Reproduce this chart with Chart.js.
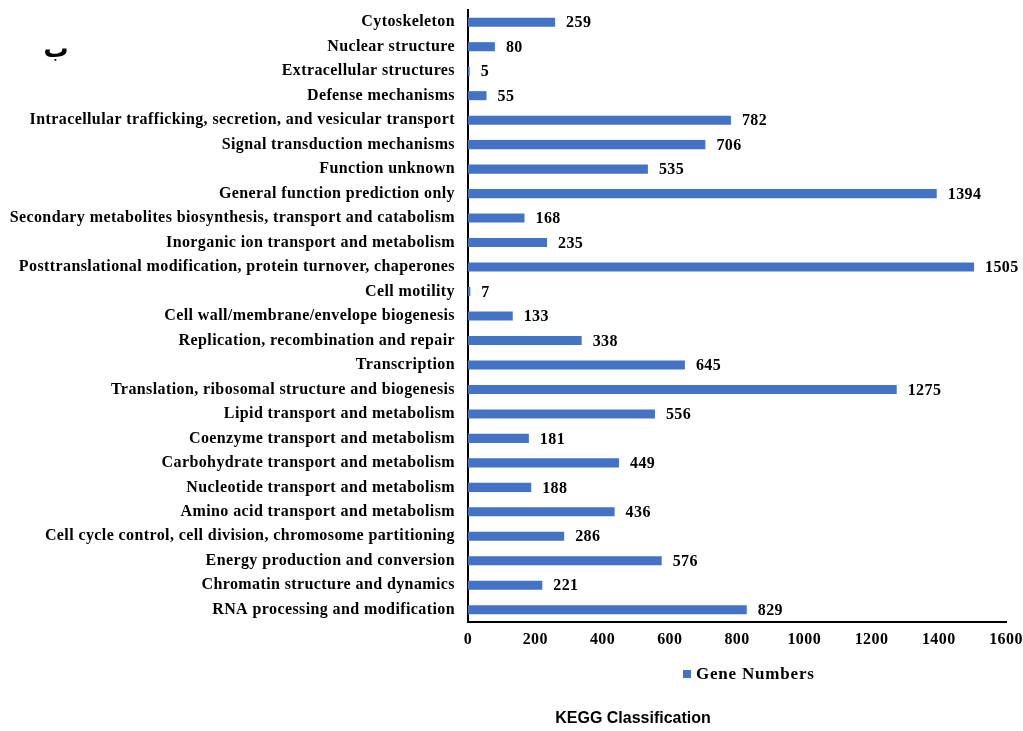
<!DOCTYPE html>
<html>
<head>
<meta charset="utf-8">
<script src="https://cdn.jsdelivr.net/npm/chart.js@4/dist/chart.umd.min.js"></script>
<style>
  html, body { margin: 0; padding: 0; background: #fff; }
  #wrap { width: 1023px; height: 731px; position: relative; }
</style>
</head>
<body>
<div id="wrap"><canvas id="keggChart" width="1023" height="731"></canvas></div>
<script>
// KEGG categories, top to bottom as in the figure
const categories = [
    "Cytoskeleton",
    "Nuclear structure",
    "Extracellular structures",
    "Defense mechanisms",
    "Intracellular trafficking, secretion, and vesicular transport",
    "Signal transduction mechanisms",
    "Function unknown",
    "General function prediction only",
    "Secondary metabolites biosynthesis, transport and catabolism",
    "Inorganic ion transport and metabolism",
    "Posttranslational modification, protein turnover, chaperones",
    "Cell motility",
    "Cell wall/membrane/envelope biogenesis",
    "Replication, recombination and repair",
    "Transcription",
    "Translation, ribosomal structure and biogenesis",
    "Lipid transport and metabolism",
    "Coenzyme transport and metabolism",
    "Carbohydrate transport and metabolism",
    "Nucleotide transport and metabolism",
    "Amino acid transport and metabolism",
    "Cell cycle control, cell division, chromosome partitioning",
    "Energy production and conversion",
    "Chromatin structure and dynamics",
    "RNA processing and modification"
];
const geneNumbers = [259, 80, 5, 55, 782, 706, 535, 1394, 168, 235, 1505, 7, 133, 338, 645, 1275, 556, 181, 449, 188, 436, 286, 576, 221, 829];
const seriesName = "Gene Numbers";
const chartTitle = "KEGG Classification";
const cornerMark = "ب";
const xMin = 0, xMax = 1600, xStep = 200;

const barColor = "#4472C4";
const serif = "'Liberation Serif', 'Times New Roman', serif";

// the figure's text is a bit wide, so space the letters out
const spacingPlugin = {
    id: "spacing",
    beforeLayout(chart) { chart.ctx.letterSpacing = "0.4px"; },
    beforeDraw(chart) { chart.ctx.letterSpacing = "0.4px"; }
};

// value labels, legend, title and corner mark
const extrasPlugin = {
    id: "extras",
    afterDatasetsDraw(chart) {
        const ctx = chart.ctx;
        const meta = chart.getDatasetMeta(0);
        ctx.save();
        ctx.fillStyle = "#000";
        ctx.letterSpacing = "0.4px";
        ctx.font = "bold 16px " + serif;
        ctx.textAlign = "left";
        ctx.textBaseline = "middle";
        meta.data.forEach((bar, i) => {
            ctx.fillText(String(geneNumbers[i]), bar.x + 11, bar.y + 1);
        });

        // legend
        ctx.font = "bold 17px " + serif;
        ctx.letterSpacing = "0.8px";
        ctx.fillStyle = barColor;
        ctx.fillRect(683, 670, 8, 8);
        ctx.fillStyle = "#000";
        ctx.fillText(seriesName, 696, 675);

        // title
        ctx.letterSpacing = "0px";
        ctx.font = "bold 16px 'Liberation Sans', Arial, sans-serif";
        ctx.textAlign = "center";
        ctx.fillText(chartTitle, 633, 719);

        // corner mark
        ctx.font = "bold 25px 'DejaVu Sans', sans-serif";
        ctx.fillText(cornerMark, 56, 50);
        ctx.restore();
    }
};

const ctx = document.getElementById("keggChart").getContext("2d");
const keggChart = new Chart(ctx, {
    type: "bar",
    data: {
        labels: categories,
        datasets: [{
            label: seriesName,
            data: geneNumbers,
            backgroundColor: barColor,
            categoryPercentage: 1.0,
            barPercentage: 0.37
        }]
    },
    options: {
        indexAxis: "y",
        responsive: false,
        animation: false,
        layout: { padding: { top: 10, right: 17, left: 0, bottom: 0 } },
        plugins: {
            legend: { display: false },
            title: { display: false },
            tooltip: { enabled: false }
        },
        scales: {
            x: {
                min: xMin,
                max: xMax,
                grid: { display: false, drawTicks: false },
                border: { display: true, color: "#000", width: 2 },
                ticks: {
                    stepSize: xStep,
                    color: "#000",
                    padding: 8,
                    maxRotation: 0,
                    callback: (v) => String(v),
                    font: { family: serif, size: 16, weight: "bold" }
                },
                afterFit(scale) {
                    scale.height = 109;
                    scale.paddingLeft = 0;
                    scale.paddingRight = 0;
                }
            },
            y: {
                grid: { display: false, drawTicks: false },
                border: { display: true, color: "#000", width: 2 },
                ticks: {
                    color: "#000",
                    padding: 13,
                    autoSkip: false,
                    font: { family: serif, size: 16, weight: "bold" }
                },
                afterFit(scale) {
                    scale.width = 468;
                    scale.paddingTop = 0;
                    scale.paddingBottom = 0;
                }
            }
        }
    },
    plugins: [spacingPlugin, extrasPlugin]
});
</script>
</body>
</html>
